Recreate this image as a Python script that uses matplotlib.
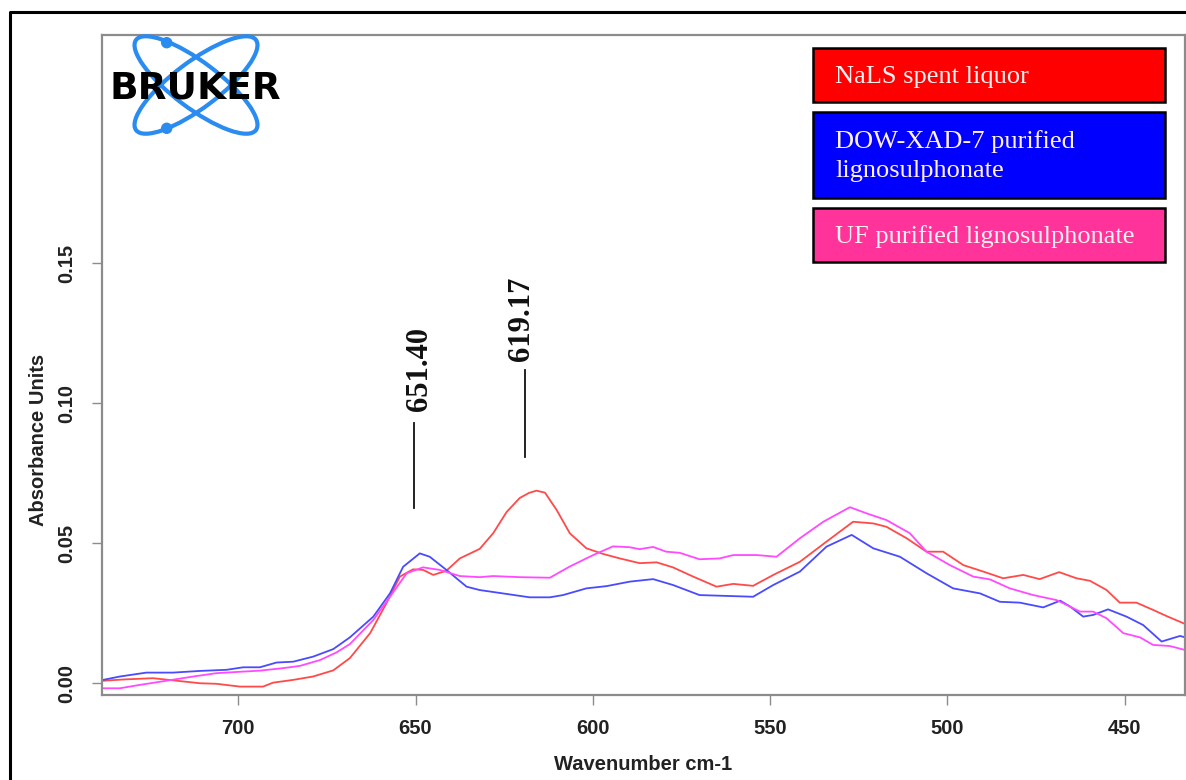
import matplotlib
matplotlib.use("Agg")
import matplotlib.pyplot as plt
from matplotlib.patches import Ellipse, Circle, Rectangle
from matplotlib.lines import Line2D

# ---------------- data ----------------
red_wn = [738.1, 731.5, 724.0, 717.4, 710.8, 706.1, 699.5, 693.0, 690.2, 684.5, 678.9, 673.2,
          668.5, 662.8, 658.2, 654.4, 650.7, 647.9, 645.0, 641.3, 637.5, 631.9, 628.1, 624.3,
          620.6, 618.0, 615.9, 613.5, 610.2, 606.5, 601.8, 597.1, 592.4, 586.8, 582.0, 577.4, 571.7,
          565.1, 560.4, 554.8, 549.1, 541.6, 534.1, 526.6, 520.9, 517.2, 511.5, 505.9, 501.2,
          495.5, 489.9, 484.3, 478.6, 474.0, 468.5, 463.6, 459.8, 455.1, 451.4, 446.7, 442.0,
          438.2, 433.0]
red_ab = [0.0009, 0.0014, 0.0018, 0.0009, 0.0000, -0.0002, -0.0012, -0.0012, 0.0002, 0.0012, 0.0024, 0.0046,
          0.0090, 0.0179, 0.0286, 0.0381, 0.0407, 0.0405, 0.0387, 0.0402, 0.0446, 0.0480, 0.0536, 0.0612,
          0.0662, 0.0680, 0.0688, 0.0681, 0.0619, 0.0536, 0.0482, 0.0462, 0.0446, 0.0429, 0.0432, 0.0414, 0.0381,
          0.0345, 0.0355, 0.0348, 0.0387, 0.0434, 0.0506, 0.0577, 0.0571, 0.0559, 0.0518, 0.0470, 0.0470,
          0.0422, 0.0399, 0.0375, 0.0387, 0.0372, 0.0397, 0.0375, 0.0366, 0.0333, 0.0288, 0.0288, 0.0262,
          0.0240, 0.0212]

blue_wn = [738.1, 733.4, 725.9, 718.4, 710.8, 703.3, 698.6, 693.9, 689.2, 684.5, 678.9, 673.2,
           668.5, 661.9, 657.2, 653.5, 648.8, 646.0, 641.3, 635.6, 631.9, 624.3, 617.8, 612.1,
           608.4, 601.8, 596.1, 589.6, 583.0, 577.4, 569.9, 562.3, 554.8, 549.1, 541.6, 534.1,
           527.0, 520.9, 513.4, 505.9, 498.4, 490.8, 485.2, 479.6, 473.0, 468.2, 465.4, 461.7,
           458.9, 454.7, 449.5, 444.8, 439.6, 434.4, 433.0]
blue_ab = [0.0012, 0.0024, 0.0038, 0.0038, 0.0044, 0.0048, 0.0057, 0.0057, 0.0074, 0.0077, 0.0095, 0.0122,
           0.0164, 0.0238, 0.0321, 0.0416, 0.0464, 0.0452, 0.0405, 0.0345, 0.0333, 0.0319, 0.0307, 0.0307,
           0.0315, 0.0339, 0.0347, 0.0363, 0.0372, 0.0351, 0.0315, 0.0312, 0.0309, 0.0351, 0.0399, 0.0488,
           0.0530, 0.0482, 0.0452, 0.0393, 0.0339, 0.0321, 0.0291, 0.0288, 0.0271, 0.0295, 0.0274, 0.0238,
           0.0244, 0.0264, 0.0238, 0.0208, 0.0149, 0.0169, 0.0164]

pink_wn = [738.1, 733.4, 727.8, 720.2, 712.7, 706.1, 699.5, 693.9, 687.3, 682.6, 676.9, 672.3,
           668.5, 661.9, 657.2, 652.5, 647.9, 643.2, 637.5, 631.9, 628.1, 620.6, 612.1, 606.5,
           599.9, 594.3, 589.6, 586.8, 583.0, 579.3, 575.5, 569.9, 564.2, 560.4, 553.8, 548.2,
           541.6, 535.0, 527.5, 522.8, 517.2, 510.6, 505.9, 499.3, 492.7, 488.0, 482.4, 475.8,
           469.2, 466.4, 462.6, 458.9, 455.1, 450.4, 445.7, 442.0, 437.3, 433.0]
pink_ab = [-0.0018, -0.0018, -0.0006, 0.0009, 0.0024, 0.0036, 0.0041, 0.0045, 0.0054, 0.0062, 0.0083, 0.0110,
           0.0140, 0.0226, 0.0309, 0.0393, 0.0414, 0.0405, 0.0383, 0.0379, 0.0383, 0.0379, 0.0377, 0.0417,
           0.0458, 0.0489, 0.0486, 0.0479, 0.0487, 0.0470, 0.0466, 0.0443, 0.0446, 0.0458, 0.0458, 0.0452,
           0.0518, 0.0577, 0.0629, 0.0607, 0.0583, 0.0536, 0.0470, 0.0422, 0.0381, 0.0371, 0.0339, 0.0315,
           0.0297, 0.0280, 0.0256, 0.0256, 0.0232, 0.0179, 0.0164, 0.0137, 0.0133, 0.0119]

series_labels = ["NaLS spent liquor", "DOW-XAD-7 purified\nlignosulphonate", "UF purified lignosulphonate"]
line_colors = ["#ff4a4a", "#4a4aff", "#ff4aff"]
box_colors = ["#ff0000", "#0000ff", "#ff3399"]

x_ticks = [700, 650, 600, 550, 500, 450]
y_ticks = [0.00, 0.05, 0.10, 0.15]
x_label = "Wavenumber cm-1"
y_label = "Absorbance Units"

peak_labels = ["651.40", "619.17"]
peak_line_x = [650.5, 619.17]
peak_line_y = [(0.0626, 0.0930), (0.0808, 0.1119)]
peak_text_xy = [(648.8, 0.1123), (620.1, 0.1301)]

# ---------------- figure ----------------
W, H = 1186, 780
fig = plt.figure(figsize=(W / 100, H / 100), dpi=100)
fig.patch.set_facecolor("white")

ax = fig.add_axes([101.7 / W, 1 - 695 / H, (1185 - 101.7) / W, (695 - 35) / H])
for wn, ab, c in zip([red_wn, blue_wn, pink_wn], [red_ab, blue_ab, pink_ab], line_colors):
    ax.plot(wn, ab, color=c, lw=1.3, solid_joinstyle="round")

ax.set_xlim(738.5, 433)
ax.set_ylim(-0.0042, 0.2316)
ax.set_xticks(x_ticks)
ax.set_xticklabels([str(t) for t in x_ticks])
ax.set_yticks(y_ticks)
ax.set_yticklabels([f"{t:.2f}" for t in y_ticks])

for sp in ax.spines.values():
    sp.set_color("#8c8c8c")
    sp.set_linewidth(1.6)
ax.tick_params(axis="both", colors="#8c8c8c", length=7.5, width=1.0, direction="out",
               labelcolor="#222222", labelsize=14.5, pad=10)
ax.tick_params(axis="y", labelrotation=90, pad=11)
for lab in ax.get_xticklabels() + ax.get_yticklabels():
    lab.set_fontfamily("Liberation Sans")
    lab.set_fontweight("bold")
for lab in ax.get_yticklabels():
    lab.set_va("center")

# peak annotations
for lbl, px, (y0, y1), (tx, ty) in zip(peak_labels, peak_line_x, peak_line_y, peak_text_xy):
    ax.plot([px, px], [y0, y1], color="#111111", lw=1.3)
    ax.text(tx, ty, lbl, rotation=90, ha="center", va="center",
            fontfamily="Liberation Serif", fontweight="bold", fontsize=22, color="#111111")

# axis labels
fig.text(643 / W, 1 - 765 / H, x_label, ha="center", va="center",
         fontfamily="Liberation Sans", fontweight="bold", fontsize=14.5, color="#222222")
fig.text(39 / W, 1 - 440 / H, y_label, ha="center", va="center", rotation=90,
         fontfamily="Liberation Sans", fontweight="bold", fontsize=14.5, color="#222222")

# ---------------- overlay (pixel coordinates) ----------------
ov = fig.add_axes([0, 0, 1, 1], zorder=5)
ov.set_xlim(0, W)
ov.set_ylim(H, 0)
ov.axis("off")

# outer frame
ov.add_line(Line2D([10, 10, W + 5], [H + 5, 11.5, 11.5], color="black", lw=2.2))

# Bruker logo
logo_blue = "#2a8cf0"
for ang in (37, -37):
    ov.add_patch(Ellipse((196, 85), 150, 46, angle=ang, fill=False, ec=logo_blue, lw=3.0))
for cy in (42.7, 128.3):
    ov.add_patch(Circle((166.7, cy), 5.0, color=logo_blue))
ov.text(195.5, 98.5, "BRUKER", ha="center", va="baseline", fontfamily="DejaVu Sans",
        fontweight="bold", fontsize=27, color="black", zorder=6)

# legend boxes
boxes = [(48.3, 101.7, [83.3]), (111.7, 197.7, [148.3, 176.7]), (208.3, 261.7, [243.3])]
for (top, bot, baselines), lbl, fc in zip(boxes, series_labels, box_colors):
    ov.add_patch(Rectangle((812.7, top), 1165 - 812.7, bot - top, fc=fc, ec="black", lw=1.8))
    for bl, line in zip(baselines, lbl.split("\n")):
        ov.text(835, bl, line, ha="left", va="baseline", fontfamily="Liberation Serif",
                fontsize=19, color="#fff0f0")

fig.savefig("out.png", dpi=100)
